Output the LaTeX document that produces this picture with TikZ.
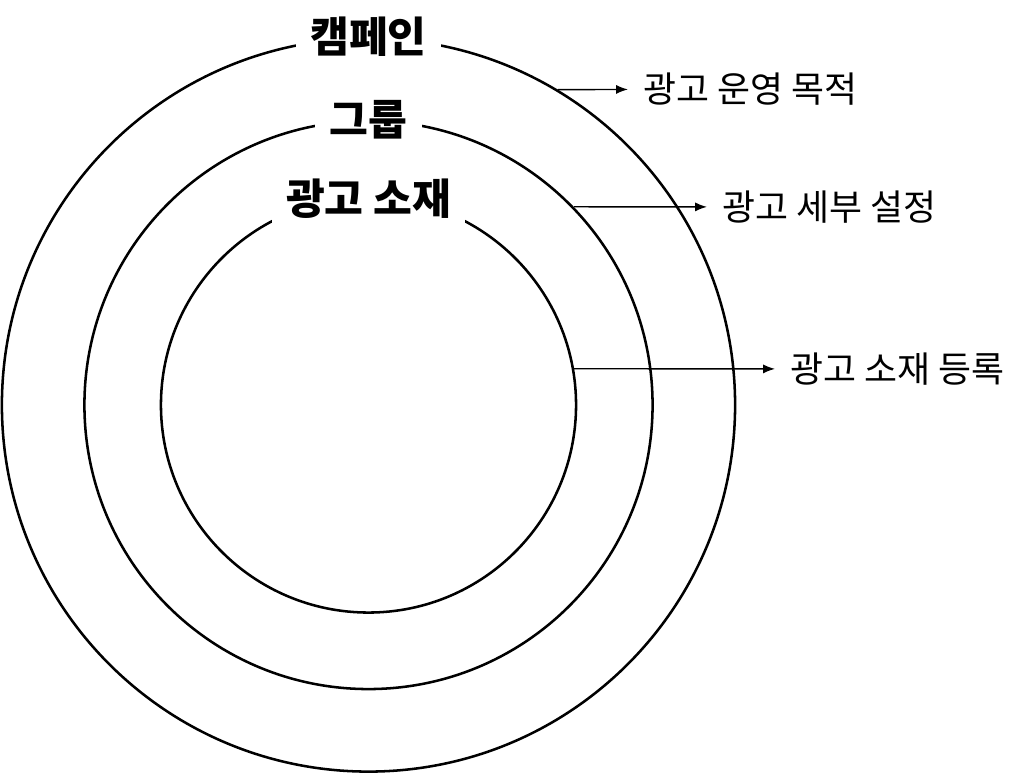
\documentclass[tikz,border=0pt]{standalone}
\usepackage{fontspec}
\newfontfamily\kr{Noto Sans CJK KR}
\usetikzlibrary{positioning, arrows.meta}

\tikzset{
	ring/.style={draw,circle,line width=1.8pt,inner sep=0pt},
	title/.style={fill=white,inner xsep=0.36cm,inner ysep=3pt,font=\kr\bfseries\fontsize{30}{32}\selectfont},
	note/.style={anchor=west,inner xsep=0.375cm,inner ysep=0pt,font=\kr\fontsize{25.5}{28}\selectfont},
	pointer/.style={-{Latex[length=8.5pt,width=6.5pt]},line width=1pt}
}

\begin{document}
\begin{tikzpicture}[x=0.025cm,y=0.025cm]
	\useasboundingbox (-368.5,-368) rectangle (655.5,405);
	
	\node[ring,minimum size=18.325cm] at (0,0) (campaign){};
	\node[ring,minimum size=14.2cm] at (0,0) (group){};
	\node[ring,minimum size=10.375cm] at (0,0) (creative){};
	
	\node[title] at (campaign.north) (campaignT){캠페인};
	\node[title] at (group.north) (groupT){그룹};
	\node[title,yshift=-2pt] at (creative.north) (creativeT){광고 소재};
	
	\begin{scope}[every node/.style={note}]
	\node at (259.5,316) (purpose){광고 운영 목적};
	\node at (338.5,198) (setting){광고 세부 설정};
	\node at (406.5,36) (upload){광고 소재 등록};
	\end{scope}
	
	\draw[pointer] (campaign.59.55) -- (purpose);
	\draw[pointer] (group.44.2) -- (setting);
	\draw[pointer] (creative.10) -- (upload);
\end{tikzpicture}
\end{document}
